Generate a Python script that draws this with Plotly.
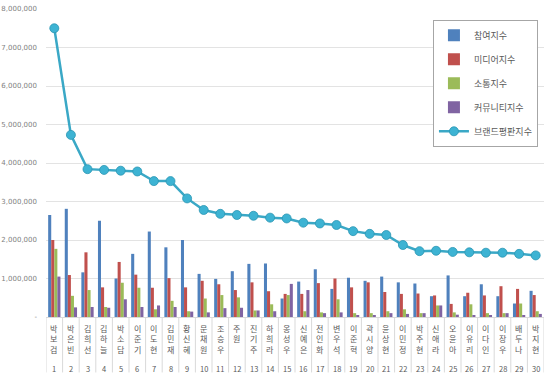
import plotly.graph_objects as go

ranks = list(range(1, 31))
names = ["박보검", "박은빈", "김희선", "김하늘", "박소담", "이준기", "이도현", "김민재", "황신혜", "문채원",
         "조승우", "주원", "진기주", "하희라", "옹성우", "신예은", "전인화", "변우석", "이준혁", "곽시양",
         "윤상현", "이민정", "박주현", "신애라", "오윤아", "이유리", "이다인", "이장우", "배두나", "박지현"]

participation = [2650000, 2810000, 1160000, 2500000, 1000000, 1640000, 2220000, 1810000, 2000000, 1120000,
                 990000, 1190000, 1380000, 1390000, 480000, 920000, 1240000, 730000, 1020000, 940000,
                 1050000, 900000, 870000, 540000, 1080000, 540000, 850000, 540000, 350000, 680000]
media = [2000000, 1090000, 1680000, 770000, 1430000, 1100000, 760000, 1010000, 770000, 940000,
         850000, 700000, 900000, 670000, 600000, 600000, 880000, 1000000, 770000, 900000,
         650000, 600000, 610000, 560000, 340000, 630000, 560000, 800000, 730000, 570000]
communication = [1770000, 550000, 700000, 260000, 890000, 760000, 200000, 420000, 150000, 480000,
                 570000, 510000, 170000, 330000, 570000, 150000, 120000, 460000, 100000, 100000,
                 150000, 200000, 100000, 300000, 120000, 330000, 100000, 100000, 350000, 150000]
community = [1050000, 250000, 260000, 240000, 460000, 260000, 300000, 260000, 140000, 120000,
             230000, 240000, 170000, 150000, 860000, 700000, 100000, 120000, 50000, 50000,
             100000, 80000, 100000, 300000, 60000, 50000, 50000, 100000, 50000, 80000]
brand = [7500000, 4730000, 3840000, 3820000, 3800000, 3780000, 3530000, 3530000, 3080000, 2780000,
         2680000, 2650000, 2630000, 2580000, 2560000, 2450000, 2430000, 2390000, 2230000, 2160000,
         2130000, 1870000, 1710000, 1720000, 1690000, 1680000, 1670000, 1670000, 1640000, 1600000]

series_names = ["참여지수", "미디어지수", "소통지수", "커뮤니티지수", "브랜드평판지수"]
colors = ["#4F81BD", "#C0504D", "#9BBB59", "#8064A2", "#3AAFCE"]
y_ticks = [0, 1000000, 2000000, 3000000, 4000000, 5000000, 6000000, 7000000, 8000000]
y_ticktext = ["-"] + [f"{v:,}" for v in y_ticks[1:]]

font_kr = "Noto Sans CJK KR"
gray = "#595959"

fig = go.Figure()
for i, (vals, nm, col) in enumerate(zip([participation, media, communication, community], series_names[:4], colors[:4])):
    fig.add_trace(go.Bar(x=ranks, y=vals, name=nm, legendgroup=f"g{i}",
                         marker=dict(color=col, line=dict(width=0))))

fig.add_trace(go.Scatter(x=ranks, y=brand, name=series_names[4], mode="lines+markers", legendgroup="g4",
                         line=dict(color="#3AA8C6", width=2.5),
                         marker=dict(size=9, color="#3DB3D3", line=dict(color="#2A95B3", width=0.8))))

# category labels: stacked names and rank numbers
for r, nm in zip(ranks, names):
    fig.add_annotation(x=r, y=0, xref="x", yref="paper", yanchor="top", yshift=-4,
                       text="<br>".join(list(nm)), showarrow=False,
                       font=dict(family=font_kr, size=8, color=gray))
    fig.add_annotation(x=r, y=0, xref="x", yref="paper", yanchor="middle", yshift=-51,
                       text=str(r), showarrow=False,
                       font=dict(family=font_kr, size=7.5, color=gray))

# separators between categories
for r in [0] + ranks:
    fig.add_shape(type="line", xref="x", yref="paper", x0=r + 0.5, x1=r + 0.5, y0=0, y1=-0.18,
                  line=dict(color="#D9D9D9", width=1))

fig.update_layout(
    width=550, height=377,
    margin=dict(l=46, r=6, t=9, b=60, autoexpand=False),
    plot_bgcolor="white", paper_bgcolor="white",
    barmode="group", bargap=0.26, bargroupgap=0.0,
    showlegend=True,
    legend=dict(x=0.777, y=0.965, xanchor="left", yanchor="top",
                bordercolor="#A6A6A6", borderwidth=1, bgcolor="white",
                font=dict(family=font_kr, size=9, color=gray),
                tracegroupgap=5, itemwidth=30, traceorder="grouped"),
    font=dict(family=font_kr, color=gray),
)
fig.update_xaxes(range=[0.5, 30.5], showticklabels=False, showgrid=False, zeroline=False,
                 showline=True, linecolor="#D9D9D9", linewidth=1, ticks="", automargin=False)
fig.update_yaxes(range=[0, 8000000], tickvals=y_ticks, ticktext=y_ticktext,
                 showgrid=True, gridcolor="#E3E3E3", gridwidth=1, zeroline=False,
                 tickfont=dict(family="DejaVu Sans", size=7, color="#7F7F7F"),
                 ticks="", ticklabelstandoff=8, automargin=False)

fig.write_html("out.html", config={"displayModeBar": False},
               post_script="document.body.style.margin='0';")
